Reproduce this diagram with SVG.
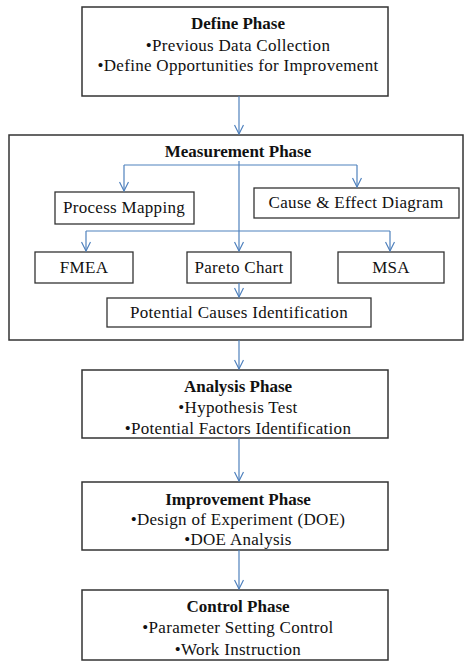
<svg xmlns="http://www.w3.org/2000/svg" width="465" height="662" viewBox="0 0 465 662" font-family="Liberation Serif, Times New Roman, DejaVu Serif, serif">
<defs>
<style>
.box{fill:#fff;stroke:#333;stroke-width:1.5}
.sub{fill:#fff;stroke:#333;stroke-width:1.3}
text{font-family:'Liberation Serif','Times New Roman','DejaVu Serif',serif;font-size:17px;letter-spacing:0.3px;fill:#111;text-anchor:middle}
.b{font-weight:bold;letter-spacing:0}
.c{fill:none;stroke:#4f81bd;stroke-width:1.2}
</style>
<marker id="ah" markerWidth="12" markerHeight="10" refX="10" refY="5" orient="auto" markerUnits="userSpaceOnUse">
<path d="M1,0.5 L10,5 L1,9.5" fill="none" stroke="#4f81bd" stroke-width="1.2"/>
</marker>
</defs>
<rect width="465" height="662" fill="#fff"/>
<g id="define">
<rect class="box" x="82" y="7" width="306" height="89"/>
<text class="b" x="238" y="29">Define Phase</text>
<text x="238" y="51">•Previous Data Collection</text>
<text x="238" y="71">•Define Opportunities for Improvement</text>
</g>
<g id="measurement">
<rect class="box" x="9" y="135" width="454" height="205"/>
<text class="b" x="238" y="157">Measurement Phase</text>
</g>
<g id="process-mapping">
<rect class="sub" x="55" y="192" width="139" height="32"/>
<text x="124" y="213">Process Mapping</text>
</g>
<g id="cause-effect">
<rect class="sub" x="254" y="188" width="205" height="30"/>
<text x="356" y="208">Cause &amp; Effect Diagram</text>
</g>
<g id="fmea">
<rect class="sub" x="35" y="252" width="98" height="31"/>
<text x="84" y="273">FMEA</text>
</g>
<g id="pareto">
<rect class="sub" x="187" y="252" width="104" height="31"/>
<text x="239" y="273">Pareto Chart</text>
</g>
<g id="msa">
<rect class="sub" x="338" y="252" width="106" height="31"/>
<text x="391" y="273">MSA</text>
</g>
<g id="potential-causes">
<rect class="sub" x="107" y="298" width="264" height="29"/>
<text x="239" y="318">Potential Causes Identification</text>
</g>
<g id="analysis">
<rect class="box" x="82" y="370" width="306" height="68"/>
<text class="b" x="238" y="392">Analysis Phase</text>
<text x="238" y="413">•Hypothesis Test</text>
<text x="238" y="434">•Potential Factors Identification</text>
</g>
<g id="improvement">
<rect class="box" x="82" y="482" width="306" height="68"/>
<text class="b" x="238" y="505">Improvement Phase</text>
<text x="238" y="525">•Design of Experiment (DOE)</text>
<text x="238" y="545">•DOE Analysis</text>
</g>
<g id="control">
<rect class="box" x="82" y="590" width="306" height="70"/>
<text class="b" x="238" y="612">Control Phase</text>
<text x="238" y="633">•Parameter Setting Control</text>
<text x="238" y="655">•Work Instruction</text>
</g>
<g id="connectors">
<path class="c" d="M239,96 V134" marker-end="url(#ah)"/>
<path class="c" d="M239,161 V251" marker-end="url(#ah)"/>
<path class="c" d="M124,165 H357"/>
<path class="c" d="M124,165 V191" marker-end="url(#ah)"/>
<path class="c" d="M357,165 V187" marker-end="url(#ah)"/>
<path class="c" d="M86,231 H390"/>
<path class="c" d="M86,231 V251" marker-end="url(#ah)"/>
<path class="c" d="M390,231 V251" marker-end="url(#ah)"/>
<path class="c" d="M239,283 V297" marker-end="url(#ah)"/>
<path class="c" d="M239,340 V369" marker-end="url(#ah)"/>
<path class="c" d="M239,438 V481" marker-end="url(#ah)"/>
<path class="c" d="M239,550 V589" marker-end="url(#ah)"/>
</g>
</svg>
